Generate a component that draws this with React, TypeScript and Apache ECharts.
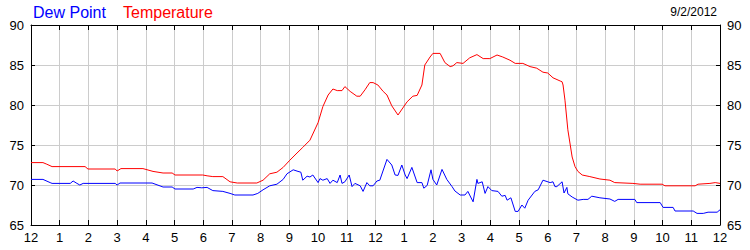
import React, { useEffect, useRef } from "react";
import * as echarts from "echarts";

// Time in minutes after midnight
const tempMinutes = [0, 25, 33, 44, 113, 119, 176, 180, 188, 234, 255, 276, 295, 301, 359, 368, 380, 401, 416, 431, 472, 485, 499, 514, 527, 541, 556, 568, 583, 600, 610, 621, 631, 640, 650, 656, 667, 681, 688, 698, 708, 715, 725, 736, 744, 754, 767, 786, 798, 807, 817, 823, 834, 840, 855, 865, 876, 882, 890, 903, 917, 932, 945, 959, 974, 986, 1001, 1012, 1028, 1043, 1057, 1070, 1080, 1091, 1106, 1110, 1112, 1116, 1122, 1131, 1137, 1143, 1152, 1168, 1189, 1210, 1220, 1258, 1273, 1319, 1325, 1388, 1394, 1419, 1430, 1440];
const tempValues = [72.8, 72.8, 72.6, 72.3, 72.3, 72.0, 72.0, 71.75, 72.05, 72.05, 71.7, 71.5, 71.5, 71.25, 71.25, 71.15, 71.05, 71.05, 70.4, 70.25, 70.25, 70.6, 71.4, 71.6, 72.2, 73.1, 74.0, 74.7, 75.6, 77.8, 79.8, 81.25, 82.0, 81.8, 81.8, 82.3, 81.7, 81.1, 81.1, 81.9, 82.8, 82.8, 82.5, 81.7, 81.25, 79.9, 78.75, 80.4, 81.1, 81.2, 82.5, 85.0, 86.0, 86.45, 86.45, 85.3, 84.8, 84.9, 85.3, 85.2, 85.9, 86.3, 85.8, 85.8, 86.25, 86.0, 85.6, 85.2, 85.2, 84.8, 84.6, 84.1, 84.0, 83.4, 83.0, 82.9, 82.5, 80.6, 76.9, 73.5, 72.3, 71.7, 71.25, 71.05, 70.75, 70.6, 70.3, 70.2, 70.1, 70.1, 69.9, 69.9, 70.1, 70.2, 70.3, 70.2];

const dewMinutes = [0, 25, 40, 44, 82, 88, 96, 102, 109, 176, 180, 186, 253, 276, 295, 301, 339, 347, 357, 368, 380, 401, 416, 426, 464, 474, 485, 499, 514, 527, 535, 548, 558, 564, 568, 577, 583, 589, 600, 604, 610, 619, 625, 631, 640, 646, 650, 656, 665, 671, 677, 688, 694, 702, 708, 715, 723, 729, 744, 754, 761, 767, 775, 782, 786, 796, 807, 817, 821, 828, 836, 840, 848, 859, 869, 880, 886, 897, 907, 913, 924, 932, 934, 943, 949, 955, 963, 976, 984, 991, 995, 1003, 1012, 1018, 1026, 1032, 1039, 1053, 1060, 1070, 1085, 1091, 1095, 1099, 1110, 1114, 1120, 1122, 1131, 1143, 1154, 1164, 1172, 1189, 1210, 1220, 1227, 1262, 1266, 1315, 1321, 1342, 1346, 1384, 1392, 1405, 1415, 1434, 1440];
const dewValues = [70.7, 70.7, 70.3, 70.2, 70.2, 70.5, 70.2, 70.0, 70.2, 70.2, 70.0, 70.25, 70.25, 69.75, 69.75, 69.5, 69.5, 69.7, 69.65, 69.7, 69.3, 69.2, 68.95, 68.75, 68.75, 68.95, 69.4, 69.9, 70.1, 70.7, 71.4, 71.9, 71.7, 71.6, 70.6, 71.1, 71.0, 71.25, 70.3, 70.8, 70.6, 70.8, 70.2, 70.6, 70.3, 71.25, 70.2, 70.4, 71.25, 69.8, 70.2, 69.9, 69.2, 70.3, 69.9, 69.9, 70.5, 70.6, 73.2, 72.5, 71.25, 71.2, 72.5, 71.25, 70.8, 72.2, 70.3, 70.3, 69.6, 69.95, 71.9, 70.7, 70.0, 71.95, 70.7, 69.8, 69.25, 68.75, 68.75, 69.2, 67.9, 70.7, 70.2, 70.4, 68.95, 69.8, 69.3, 69.2, 68.6, 68.7, 68.1, 68.4, 66.7, 66.7, 67.5, 67.1, 68.1, 69.2, 69.4, 70.6, 70.3, 70.4, 69.8, 69.8, 70.4, 69.0, 69.7, 68.9, 68.5, 68.1, 68.2, 68.2, 68.6, 68.4, 68.25, 67.95, 68.2, 68.2, 67.8, 67.8, 67.2, 67.2, 66.75, 66.75, 66.45, 66.45, 66.6, 66.6, 66.9];

const seriesNames = ["Dew Point", "Temperature"];
const dateLabel = "9/2/2012";
const yMin = 65;
const yMax = 90;

const FONT = "Liberation Sans, Arial, sans-serif";

function hourLabel(v: number): string {
  const h = Math.round(v / 60) % 12;
  return String(h === 0 ? 12 : h);
}

export default function App() {
  const ref = useRef<HTMLDivElement>(null);
  useEffect(() => {
    document.body.style.margin = "0";
    if (!ref.current) return;
    const chart = echarts.init(ref.current, undefined, { renderer: "svg" });
    const gridColor = "#cccccc";
    const xCommon = {
      type: "value" as const,
      min: 0,
      max: 1440,
      interval: 60,
      axisLine: { show: true, onZero: false, lineStyle: { color: "#000", width: 1 } },
      axisTick: { show: true, inside: true, length: 5, lineStyle: { color: "#000" } },
    };
    const yCommon = {
      type: "value" as const,
      min: yMin,
      max: yMax,
      interval: 5,
      axisLine: { show: true, onZero: false, lineStyle: { color: "#000", width: 1 } },
      axisTick: { show: true, inside: true, length: 4, lineStyle: { color: "#000" } },
      axisLabel: { color: "#000", fontSize: 13, fontFamily: FONT, margin: 7 },
    };
    chart.setOption({
      animation: false,
      backgroundColor: "#ffffff",
      grid: { left: 31, right: 30, top: 25, bottom: 25, containLabel: false },
      xAxis: [
        {
          ...xCommon,
          position: "bottom",
          axisLabel: { color: "#000", fontSize: 13, fontFamily: FONT, margin: 6, formatter: hourLabel },
          splitLine: { show: true, lineStyle: { color: gridColor, width: 1 } },
        },
        {
          ...xCommon,
          position: "top",
          axisLabel: { show: false },
          splitLine: { show: false },
        },
      ],
      yAxis: [
        {
          ...yCommon,
          position: "left",
          splitLine: { show: true, lineStyle: { color: gridColor, width: 1 } },
        },
        {
          ...yCommon,
          position: "right",
          splitLine: { show: false },
        },
      ],
      graphic: [
        {
          type: "text",
          left: 33,
          top: 4,
          style: { text: seriesNames[0], fill: "#0000ff", font: `16px ${FONT}` },
        },
        {
          type: "text",
          left: 123,
          top: 4,
          style: { text: seriesNames[1], fill: "#ff0000", font: `16px ${FONT}` },
        },
        {
          type: "text",
          right: 33,
          top: 6,
          style: { text: dateLabel, fill: "#000", font: `12px ${FONT}` },
        },
      ],
      series: [
        {
          name: seriesNames[0],
          type: "line",
          xAxisIndex: 0,
          yAxisIndex: 0,
          showSymbol: false,
          symbol: "none",
          lineStyle: { color: "#0000ff", width: 1 },
          data: dewMinutes.map((m, i) => [m, dewValues[i]]),
        },
        {
          name: seriesNames[1],
          type: "line",
          xAxisIndex: 0,
          yAxisIndex: 0,
          showSymbol: false,
          symbol: "none",
          lineStyle: { color: "#ff0000", width: 1 },
          data: tempMinutes.map((m, i) => [m, tempValues[i]]),
        },
      ],
    });
    return () => chart.dispose();
  }, []);
  return <div ref={ref} style={{ width: 750, height: 250 }} />;
}
